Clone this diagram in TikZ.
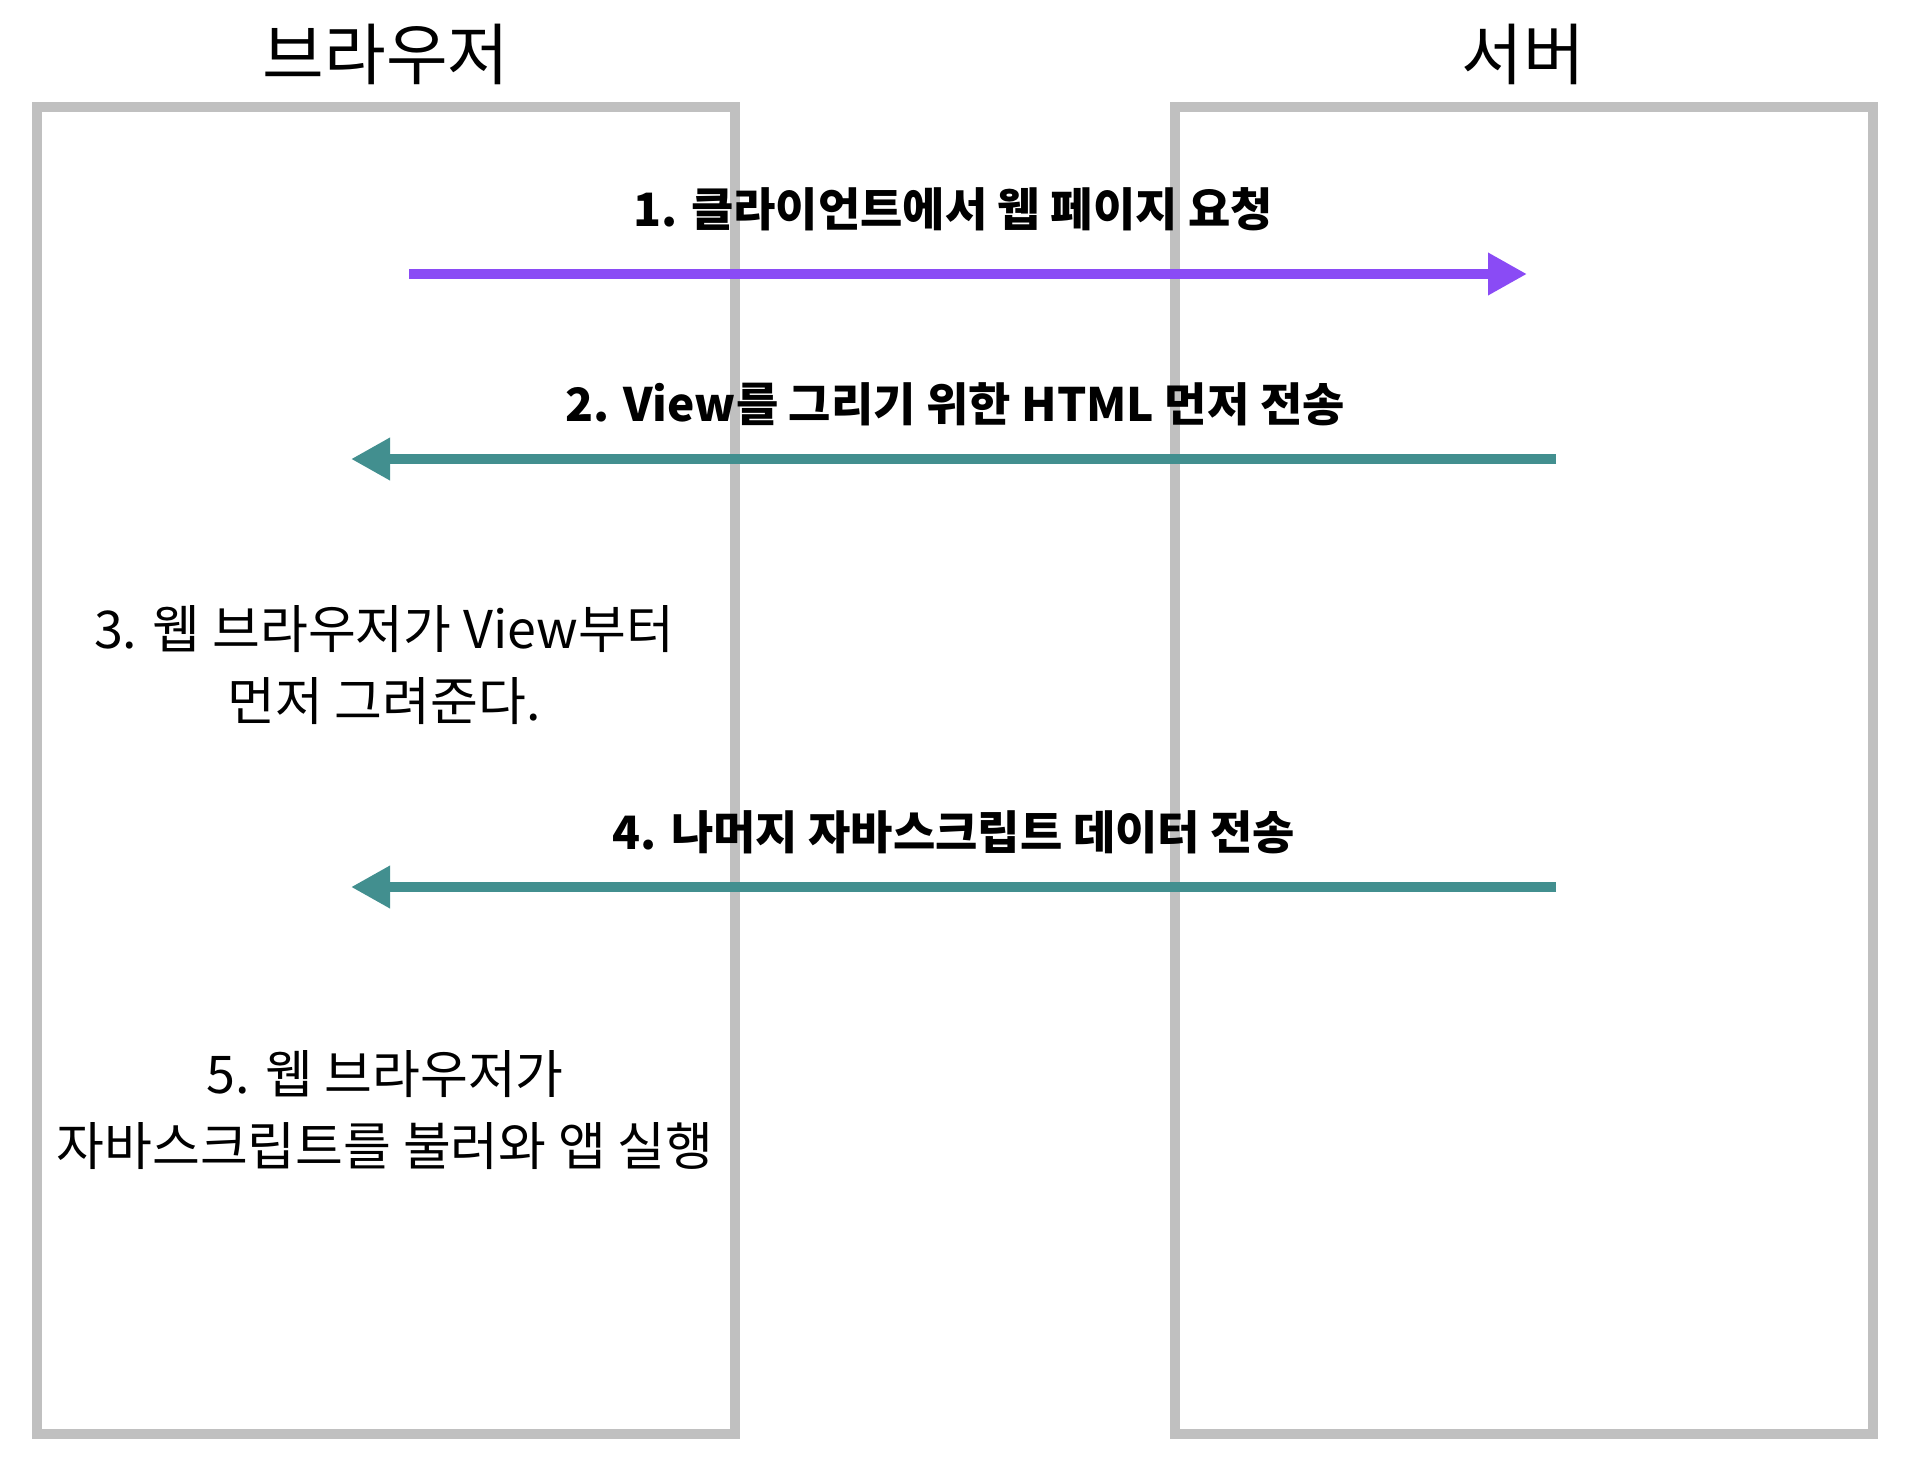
\documentclass[tikz,border=0pt]{standalone}
\usepackage{fontspec}
\setmainfont{Noto Sans CJK KR}
\usetikzlibrary{arrows.meta}
\definecolor{boxgray}{HTML}{C0C0C0}
\definecolor{reqpurple}{HTML}{8A4BF5}
\definecolor{resteal}{HTML}{428F8F}
\tikzset{
  lane/.style={draw=boxgray, line width=10pt, rectangle, inner sep=0pt, outer sep=0pt,
    minimum width=698pt, minimum height=1327pt},
  lanetitle/.style={font=\fontsize{67}{78}\selectfont, inner sep=0pt},
  msglabel/.style={font=\fontsize{46}{54}\selectfont\bfseries, inner sep=0pt},
  note/.style={font=\fontsize{52}{72}\selectfont, align=center, inner sep=0pt},
  reqarrow/.style={draw=reqpurple, line width=10pt, -{Triangle[length=39pt,width=40pt]}},
  resarrow/.style={draw=resteal, line width=10pt, -{Triangle[length=39pt,width=40pt]}}
}
\begin{document}
\begin{tikzpicture}[x=1pt,y=-1pt]
\useasboundingbox (0,0) rectangle (1910,1470);
\node[lane] (browser) at (386,770.5) {};
\node[lane] (server) at (1524,770.5) {};
\node[lanetitle] (browsertitle) at (386,54) {브라우저};
\node[lanetitle] (servertitle) at (1523,54) {서버};
\coordinate (r1s) at (409,274);
\coordinate (r1e) at (1527,274);
\coordinate (r2s) at (1556,459);
\coordinate (r2e) at (351,459);
\coordinate (r4s) at (1556,887);
\coordinate (r4e) at (351,887);
\draw[reqarrow] (r1s) -- (r1e);
\draw[resarrow] (r2s) -- (r2e);
\draw[resarrow] (r4s) -- (r4e);
\node[msglabel] (l1) at (953,209) {1. 클라이언트에서 웹 페이지 요청};
\node[msglabel] (l2) at (955,404) {2. View를 그리기 위한 HTML 먼저 전송};
\node[msglabel] (l4) at (954,832) {4. 나머지 자바스크립트 데이터 전송};
\node[note] (n3) at (384,665) {3. 웹 브라우저가 View부터\\먼저 그려준다.};
\node[note] (n5) at (385,1110) {5. 웹 브라우저가\\자바스크립트를 불러와 앱 실행};
\end{tikzpicture}
\end{document}
